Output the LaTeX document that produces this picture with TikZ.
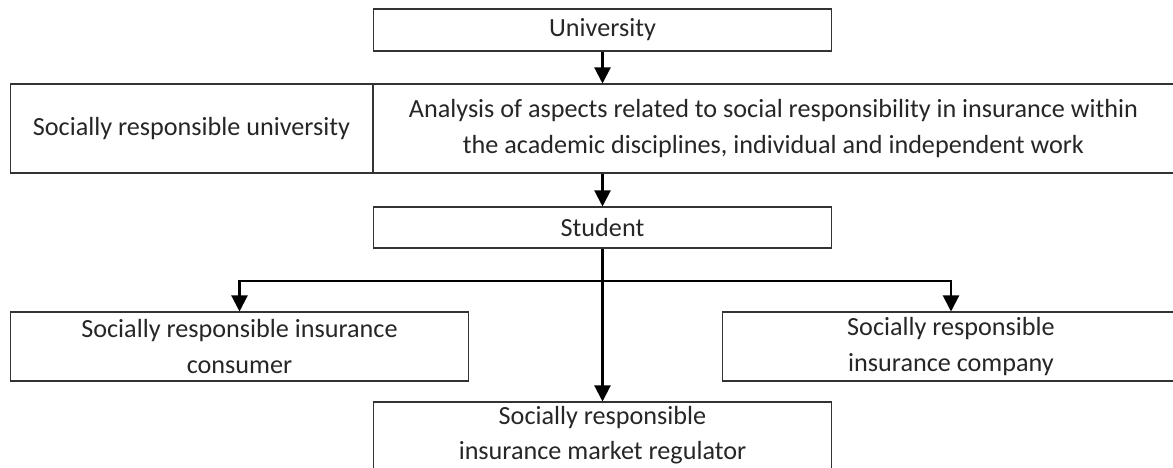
\documentclass[tikz,border=0pt]{standalone}
\usepackage{fontspec}
\setmainfont{Carlito}
\usetikzlibrary{arrows.meta}

\begin{document}
\begin{tikzpicture}[x=0.02cm, y=-0.02cm]
\tikzset{boite/.style={draw=black!80, line width=0.6pt, inner sep=0pt, align=center,
  text=black!85, font=\fontsize{14.9}{20}\selectfont},
  fleche/.style={line width=1.2pt, -{Triangle[length=0.32cm, width=0.32cm]}}}
\useasboundingbox (0,0) rectangle (1173,467);
\clip (0,0) rectangle (1173,467);
\node[boite, minimum width=9.18cm, minimum height=0.84cm] (Univ) at (602.5,30) {University};
\node[boite, minimum width=7.26cm, minimum height=1.78cm] (SRUniv) at (191.5,128.5) {Socially responsible university};
\node[boite, minimum width=16.02cm, minimum height=1.78cm] (Anal) at (773.5,128.5) {Analysis of aspects related to social responsibility in insurance within\\the academic disciplines, individual and independent work};
\node[boite, minimum width=9.18cm, minimum height=0.82cm] (Stud) at (602.5,227.5) {Student};
\node[boite, minimum width=9.18cm, minimum height=1.38cm] (Cons) at (239.5,346.5) {Socially responsible insurance\\consumer};
\node[boite, minimum width=9.16cm, minimum height=1.38cm] (Comp) at (951,346.5) {Socially responsible\\insurance company};
\node[boite, minimum width=9.18cm, minimum height=1.34cm] (Regu) at (602.5,435.5) {Socially responsible\\insurance market regulator};
\coordinate (J) at (602.5,281);
\draw[fleche] (Univ.south) -- (Univ.south |- Anal.north);
\draw[fleche] (Stud.north |- Anal.south) -- (Stud.north);
\draw[fleche] (Stud.south) -- (Regu.north);
\draw[fleche] (J) -| (Cons.north);
\draw[fleche] (J) -| (Comp.north);
\end{tikzpicture}
\end{document}
